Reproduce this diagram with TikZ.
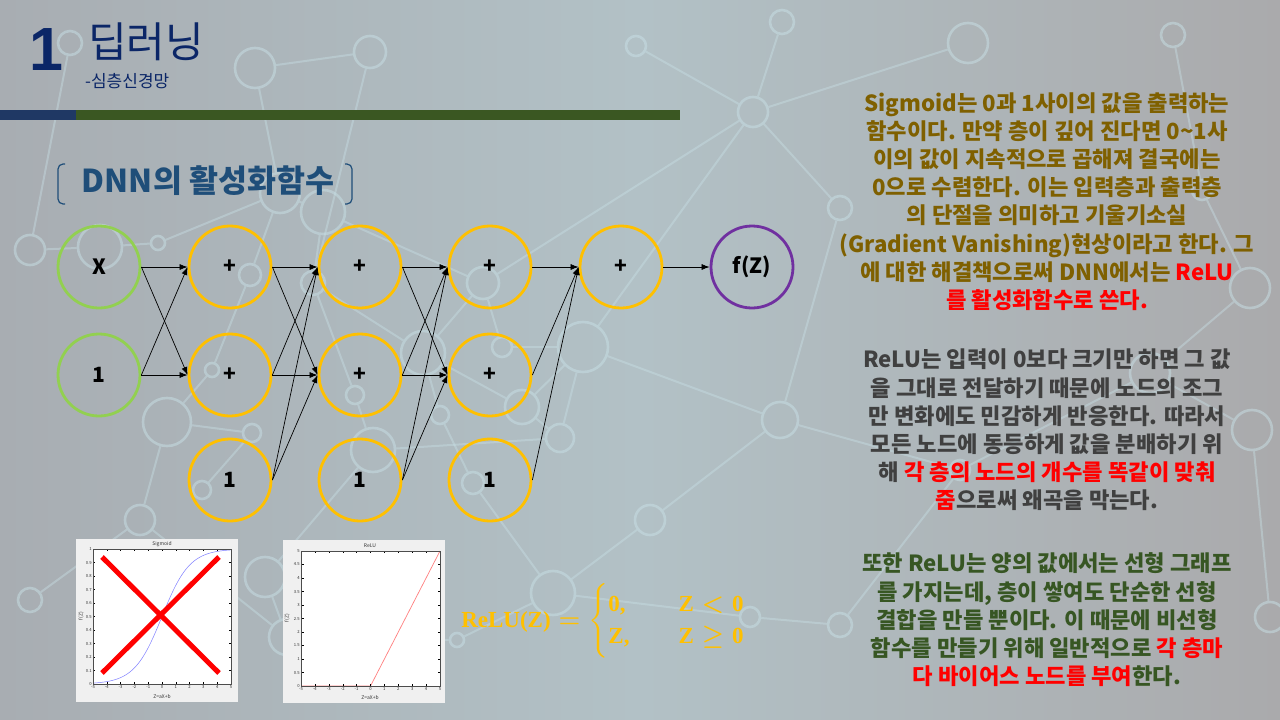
\documentclass[tikz,border=0pt]{standalone}
\usepackage[no-math]{fontspec}
\usepackage{amsmath}
\setmainfont{Noto Sans CJK KR}
\newfontfamily\latinsans{Liberation Sans}
\newfontfamily\formfont{Liberation Serif}
\usetikzlibrary{arrows.meta}
\definecolor{navy}{HTML}{0B2667}
\definecolor{headblue}{HTML}{1F4E79}
\definecolor{barnavy}{HTML}{1F3864}
\definecolor{bargreen}{HTML}{3A5722}
\definecolor{ngreen}{HTML}{92D050}
\definecolor{norange}{HTML}{FFC000}
\definecolor{npurple}{HTML}{7030A0}
\definecolor{olive}{HTML}{7F6000}
\definecolor{dgray}{HTML}{404040}
\definecolor{dgreen}{HTML}{375623}
\definecolor{bgA}{RGB}{168,173,178}
\definecolor{bgB}{RGB}{178,193,198}
\definecolor{bgC}{RGB}{170,170,172}
\definecolor{deco}{RGB}{200,224,230}
\definecolor{figbg}{HTML}{F0F0F0}
\definecolor{sigblue}{HTML}{7F7FFF}
\definecolor{relured}{HTML}{FF7F7F}
\begin{document}
\begin{tikzpicture}[x=1pt,y=-1pt,
  neuron/.style={circle, minimum size=82pt, inner sep=0pt, line width=2.8pt, font=\fontsize{21}{21}\selectfont\bfseries},
  inl/.style={neuron, draw=ngreen},
  hid/.style={neuron, draw=norange},
  outl/.style={neuron, draw=npurple},
  conn/.style={-{Latex[length=8pt,width=6pt]}, line width=0.7pt, black},
  decoc/.style={circle, draw=deco, line width=2.6pt, inner sep=0pt, opacity=0.5},
  decol/.style={draw=deco, line width=2pt, opacity=0.42},
  ticklab/.style={font=\fontsize{4.2}{4.2}\selectfont, inner sep=1pt, text=black!80},
  para/.style={align=center, font=\fontsize{22.2}{28.2}\selectfont\bfseries, inner sep=0pt}
]
\useasboundingbox (0,0) rectangle (1280,720);
\shade[left color=bgA, right color=bgC, middle color=bgB] (0,0) rectangle (1280,720);

% decorative background network
\foreach \n/\x/\y/\d in {d1/70/43/24, d2/255/68/40, d3/370/52/32, d4/280/193/40, d5/323/212/44,
  d6/158/243/14, d7/100/247/44, d8/250/275/22, d9/313/283/24, d10/483/283/32, d11/423/353/44,
  d12/502/347/20, d13/212/370/14, d14/355/395/18, d15/440/415/18, d16/522/407/34, d17/583/347/50,
  d18/167/422/48, d19/252/433/18, d20/373/450/44, d21/560/438/28, d22/473/483/22, d23/202/490/18,
  d24/265/577/40, d25/287/637/36, d26/457/640/14, d27/553/593/44, d28/750/617/20, d29/1173/35/24,
  d30/840/208/24, d31/1250/288/40, d32/1252/430/40, d33/1150/373/40, d34/840/625/24, d35/1270/617/30,
  d36/753/112/30, d37/780/420/36, d38/960/470/20, d39/968/43/40, d40/650/520/30, d41/30/600/24,
  d42/140/520/30, d43/636/46/20, d44/782/22/24, d45/30/250/30, d46/1202/190/20}
  \node[decoc, minimum size=\d pt] (\n) at (\x,\y) {};
\foreach \a/\b in {d1/d45, d2/d3, d2/d4, d4/d5, d4/d6, d6/d7, d4/d8, d5/d9, d8/d13, d9/d11,
  d9/d14, d5/d10, d10/d12, d10/d11, d11/d16, d12/d17, d16/d17, d11/d15, d14/d20, d15/d22,
  d16/d21, d17/d21, d13/d18, d18/d19, d19/d23, d20/d21, d20/d24, d22/d27, d24/d25, d25/d26,
  d26/d27, d27/d28, d17/d36, d36/d30, d17/d37, d37/d38, d38/d33, d33/d31, d31/d46, d46/d29, d33/d32,
  d32/d35, d38/d34, d34/d28, d39/d36, d30/d37, d40/d27, d40/d37, d41/d42, d42/d18, d42/d25,
  d43/d36, d44/d36, d45/d7, d10/d36, d3/d9}
  \draw[decol] (\a) -- (\b);

% title
\node[font=\latinsans\fontsize{61}{61}\selectfont\bfseries, text=navy, inner sep=0pt] (num) at (46,50) {1};
\node[font=\fontsize{42}{42}\selectfont, text=navy, anchor=west, inner sep=0pt] (ttl) at (88,42) {딥러닝};
\node[font=\fontsize{17}{17}\selectfont, text=navy, anchor=west, inner sep=0pt] (sub) at (85,81) {-심층신경망};
\fill[barnavy] (0,110) rectangle (76,120);
\fill[bargreen] (76,110) rectangle (680,120);

% heading
\node[font=\fontsize{31.5}{31.5}\selectfont\bfseries, text=headblue, inner sep=0pt] (head) at (208,181) {DNN의 활성화함수};
\draw[headblue, line width=1.2pt, rounded corners=5pt] (65,164) -- (58,164) -- (58,204) -- (65,204);
\draw[headblue, line width=1.2pt, rounded corners=5pt] (345,164) -- (352,164) -- (352,204) -- (345,204);

% network
\node[inl] (x) at (99,267) {X};
\node[inl] (b0) at (99,375) {1};
\node[hid] (h11) at (230,267) {+};
\node[hid] (h12) at (230,375) {+};
\node[hid] (b1) at (230,480) {1};
\node[hid] (h21) at (360,267) {+};
\node[hid] (h22) at (360,375) {+};
\node[hid] (b2) at (360,480) {1};
\node[hid] (h31) at (490,267) {+};
\node[hid] (h32) at (490,375) {+};
\node[hid] (b3) at (490,480) {1};
\node[hid] (o) at (621,267) {+};
\node[outl] (f) at (752,267) {f(Z)};

\foreach \s in {x,b0} \foreach \t in {h11,h12} \draw[conn] (\s.east) -- (\t.west);
\foreach \s in {h11,h12,b1} \foreach \t in {h21,h22} \draw[conn] (\s.east) -- (\t.west);
\foreach \s in {h21,h22,b2} \foreach \t in {h31,h32} \draw[conn] (\s.east) -- (\t.west);
\foreach \s in {h31,h32,b3} \draw[conn] (\s.east) -- (o.west);
\draw[conn] (o.east) -- (f.west);

% sigmoid plot
\fill[figbg] (76,539) rectangle (238,702);
\fill[white] (93,549) rectangle (231,684);
\begin{scope}[shift={(93,684)}, x=13.8pt, y=135pt]
  \draw[sigblue, line width=0.5pt] plot[domain=-5:5, samples=80, smooth] ({\x+5},{1/(1+exp(-\x))});
  \foreach \l [count=\i from 0] in {-5,-4,-3,-2,-1,0,1,2,3,4,5} {
    \draw[line width=0.3pt] (\i,0) -- ++(0,0.018);
    \draw[line width=0.3pt] (\i,1) -- ++(0,-0.018);
    \node[ticklab, below] at (\i,0) {\l};
  }
  \foreach \l [count=\i from 0] in {0,0.1,0.2,0.3,0.4,0.5,0.6,0.7,0.8,0.9,1} {
    \draw[line width=0.3pt] (0,\i/10) -- ++(0.18,0);
    \draw[line width=0.3pt] (10,\i/10) -- ++(-0.18,0);
    \node[ticklab, left] at (0,\i/10) {\l};
  }
\end{scope}
\draw[line width=0.4pt, black!70] (93,549) rectangle (231,684);
\node[ticklab, font=\fontsize{5}{5}\selectfont] (sigt) at (162,544) {Sigmoid};
\node[ticklab, font=\fontsize{5}{5}\selectfont] (sigx) at (162,697) {Z=aX+b};
\node[ticklab, font=\fontsize{5}{5}\selectfont, rotate=90] (sigy) at (81,616) {f(Z)};
\draw[red, line width=5pt] (102,557) -- (219,673);
\draw[red, line width=5pt] (102,673) -- (219,557);

% relu plot
\fill[figbg] (283,540) rectangle (445,703);
\fill[white] (301,551) rectangle (440,686);
\begin{scope}[shift={(301,686)}, x=13.9pt, y=27pt]
  \draw[relured, line width=0.7pt] (0,0) -- (5,0) -- (10,5);
  \foreach \l [count=\i from 0] in {-5,-4,-3,-2,-1,0,1,2,3,4,5} {
    \draw[line width=0.3pt] (\i,0) -- ++(0,0.09);
    \draw[line width=0.3pt] (\i,5) -- ++(0,-0.09);
    \node[ticklab, below] at (\i,0) {\l};
  }
  \foreach \l [count=\i from 0] in {0,0.5,1,1.5,2,2.5,3,3.5,4,4.5,5} {
    \draw[line width=0.3pt] (0,\i/2) -- ++(0.18,0);
    \draw[line width=0.3pt] (10,\i/2) -- ++(-0.18,0);
    \node[ticklab, left] at (0,\i/2) {\l};
  }
\end{scope}
\draw[line width=0.4pt, black!70] (301,551) rectangle (440,686);
\node[ticklab, font=\fontsize{5}{5}\selectfont] (relt) at (370,546) {ReLU};
\node[ticklab, font=\fontsize{5}{5}\selectfont] (relx) at (370,698) {Z=aX+b};
\node[ticklab, font=\fontsize{5}{5}\selectfont, rotate=90] (rely) at (287,618) {f(Z)};

% formula
\node[text=norange, font=\formfont\bfseries\fontsize{23}{27}\selectfont\boldmath, inner sep=0pt] (formula) at (603,621)
  {$\text{ReLU(Z)} = \begin{cases}\text{0,} & \hspace{26pt}\text{Z} < \text{0}\\ \text{Z,} & \hspace{26pt}\text{Z}\geq\text{0}\end{cases}$};

% right text
\node[para, text=olive] (p1) at (1047,201.5) {Sigmoid는 0과 1사이의 값을 출력하는\\
함수이다. 만약 층이 깊어 진다면 0\textasciitilde 1사\\
이의 값이 지속적으로 곱해져 결국에는\\
0으로 수렴한다. 이는 입력층과 출력층\\
의 단절을 의미하고 기울기소실\\
(Gradient Vanishing)현상이라고 한다. 그\\
에 대한 해결책으로써 DNN에서는 \textcolor{red}{ReLU}\\
\textcolor{red}{를 활성화함수로 쓴다.}};

\node[para, text=dgray] (p2) at (1047,430) {ReLU는 입력이 0보다 크기만 하면 그 값\\
을 그대로 전달하기 때문에 노드의 조그\\
만 변화에도 민감하게 반응한다. 따라서\\
모든 노드에 동등하게 값을 분배하기 위\\
해 \textcolor{red}{각 층의 노드의 개수를 똑같이 맞춰}\\
\textcolor{red}{줌}으로써 왜곡을 막는다.};

\node[para, text=dgreen] (p3) at (1047,620) {또한 ReLU는 양의 값에서는 선형 그래프\\
를 가지는데, 층이 쌓여도 단순한 선형\\
결합을 만들 뿐이다. 이 때문에 비선형\\
함수를 만들기 위해 일반적으로 \textcolor{red}{각 층마}\\
\textcolor{red}{다 바이어스 노드를 부여}한다.};
\end{tikzpicture}
\end{document}
